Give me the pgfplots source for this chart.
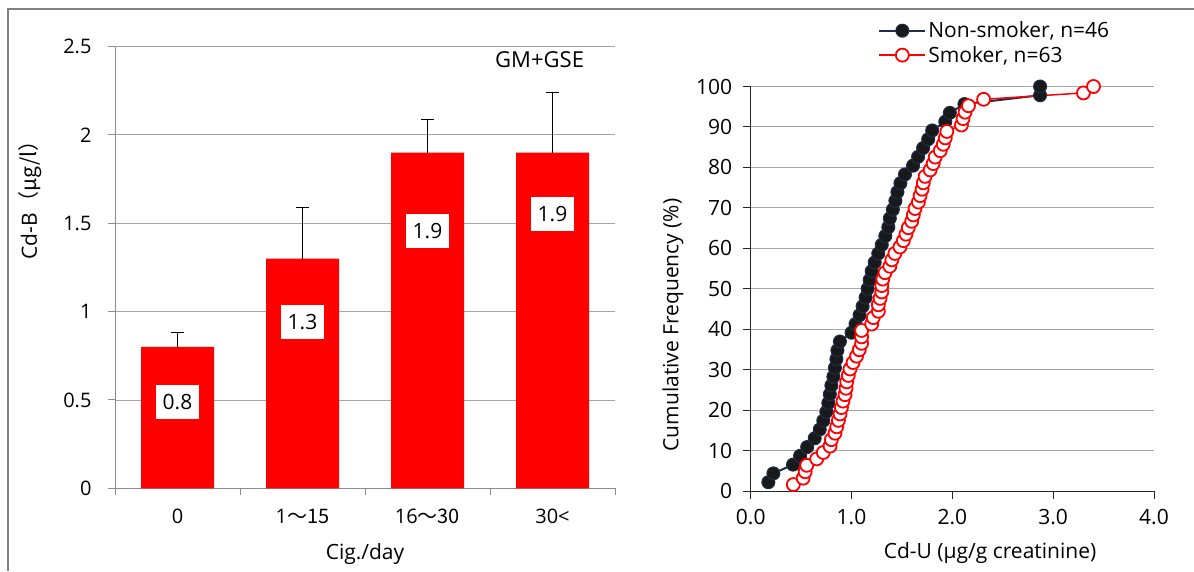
\documentclass[border=0pt]{standalone}
\usepackage{pgfplots}
\pgfplotsset{compat=1.18}
\usepackage{fontspec}
\setmainfont{Open Sans}
\newfontfamily\cjk{Noto Sans CJK JP}
\definecolor{navy}{HTML}{1F2D4D}
\definecolor{gridc}{HTML}{A6A6A6}
\definecolor{axisc}{HTML}{8C8C8C}
\newcommand{\fs}[1]{\fontsize{#1}{#1}\selectfont}
\begin{document}
\begin{tikzpicture}[x=1pt,y=1pt]
\path[use as bounding box] (0,0) rectangle (1194,571);
\draw[color=gray, line width=1.2pt] (8,0) -- (8,562) -- (1194,562);
% ---------------- left panel
\begin{axis}[
  at={(115pt,82.7pt)}, anchor=south west,
  scale only axis, width=500pt, height=441.7pt,
  xmin=-0.5, xmax=3.5, ymin=0, ymax=2.5,
  axis x line*=bottom, axis y line*=left,
  axis line style={axisc, line width=1pt, -},
  tick style={axisc, line width=1pt},
  tick align=outside, major tick length=7pt,
  xtick={-0.5,0.5,1.5,2.5,3.5}, xticklabels={,,,,,},
  extra x ticks={0,1,2,3},
  extra x tick labels={0, 1\cjk{～}15, 16\cjk{～}30, 30<},
  extra x tick style={major tick length=0pt, xticklabel style={yshift=-17pt}},
  ytick={0,0.5,1,1.5,2,2.5},
  ymajorgrids, grid style={gridc, line width=0.9pt},
  /pgf/number format/assume math mode=true,
  xticklabel style={font=\fs{20}},
  yticklabel style={font=\fs{20}, xshift=-13pt},
  clip=false,
]
\addplot[ybar, bar width=73pt, fill=red, draw=none,
  error bars/.cd, y dir=plus, y explicit,
  error bar style={black, line width=0.9pt},
  error mark options={rotate=90, mark size=6.5pt, black, line width=0.9pt}]
  table[x=x, y=y, y error=e] {
  x y e
  0 0.8 0.08
  1 1.3 0.29
  2 1.9 0.19
  3 1.9 0.34
};
\addplot[draw=none, mark=none, nodes near coords, point meta=explicit symbolic,
  every node near coord/.style={fill=white, anchor=center, inner sep=0pt,
    minimum width=43pt, minimum height=34pt, font=\fs{21}, text=black}]
  table[x=x, y=y, meta=l] {
  x y l
  0 0.486 0.8
  1 0.943 1.3
  2 1.455 1.9
  3 1.553 1.9
};
\end{axis}
\node[rotate=90, font=\fs{21}] at (30.6,376) {Cd-B\cjk{（}µg/l\cjk{）}};
\node[font=\fs{21}] at (365,17) {Cig./day};
\node[font=\fs{22}] at (539.6,511) {GM+GSE};
% ---------------- right panel
\begin{axis}[
  at={(750.7pt,80pt)}, anchor=south west,
  scale only axis, width=403.3pt, height=404.5pt,
  xmin=0, xmax=4, ymin=0, ymax=100,
  xtick={0,1,2,3,4}, ytick={0,10,...,100},
  axis x line*=bottom, axis y line*=left,
  axis line style={black!85, line width=1pt, -},
  tick style={black!85, line width=1pt},
  tick align=outside, major tick length=8pt,
  ymajorgrids, grid style={gridc, line width=0.9pt},
  /pgf/number format/assume math mode=true,
  xticklabel style={font=\fs{21}, yshift=-7pt, /pgf/number format/.cd, fixed, fixed zerofill, precision=1},
  yticklabel style={font=\fs{21}, xshift=-7pt},
  clip=false,
  legend style={at={(0.316,1.165)}, anchor=north west, draw=none, fill=none,
    font=\fs{21}, inner sep=0pt, row sep=3pt},
  legend cell align=left,
  legend image code/.code={\draw[mark repeat=2,mark phase=2,#1] plot coordinates {(0pt,0pt)(23pt,0pt)(46pt,0pt)};},
]
\addplot[navy, line width=2pt, mark=*, mark size=6.5pt,
  mark options={fill=black!90, draw=navy, line width=1pt}]
  table {
0.175 2.17
0.225 4.35
0.42 6.52
0.49 8.70
0.56 10.87
0.635 13.04
0.685 15.22
0.72 17.39
0.75 19.57
0.77 21.74
0.785 23.91
0.80 26.09
0.82 28.26
0.835 30.43
0.85 32.61
0.86 34.78
0.885 36.96
1.00 39.13
1.04 41.30
1.08 43.48
1.11 45.65
1.14 47.83
1.16 50.00
1.18 52.17
1.20 54.35
1.23 56.52
1.265 58.70
1.30 60.87
1.335 63.04
1.365 65.22
1.38 67.39
1.41 69.57
1.435 71.74
1.455 73.91
1.485 76.09
1.53 78.26
1.61 80.43
1.66 82.61
1.71 84.78
1.76 86.96
1.80 89.13
1.93 91.30
1.975 93.48
2.12 95.65
2.87 97.83
2.87 100
};
\addlegendentry{Non-smoker, n=46}
\addplot[red, line width=1.5pt, mark=*, mark size=6.5pt,
  mark options={fill=white, draw=red, line width=1.8pt}]
  table {
0.423 1.59
0.52 3.17
0.54 4.76
0.556 6.35
0.655 7.94
0.72 9.52
0.787 11.11
0.80 12.70
0.836 14.29
0.853 15.87
0.87 17.46
0.886 19.05
0.90 20.63
0.915 22.22
0.935 23.81
0.945 25.40
0.952 26.98
0.968 28.57
0.985 30.16
1.015 31.75
1.05 33.33
1.077 34.92
1.10 36.51
1.10 38.10
1.10 39.68
1.20 41.27
1.216 42.86
1.266 44.44
1.266 46.03
1.283 47.62
1.30 49.21
1.30 50.79
1.31 52.38
1.332 53.97
1.38 55.56
1.40 57.14
1.43 58.73
1.48 60.32
1.514 61.90
1.54 63.49
1.563 65.08
1.597 66.67
1.613 68.25
1.63 69.84
1.663 71.43
1.68 73.02
1.70 74.60
1.712 76.19
1.73 77.78
1.78 79.37
1.81 80.95
1.83 82.54
1.88 84.13
1.91 85.71
1.93 87.30
1.945 88.89
2.09 90.48
2.106 92.06
2.126 93.65
2.16 95.24
2.31 96.83
3.30 98.41
3.40 100
};
\addlegendentry{Smoker, n=63}
\end{axis}
\node[rotate=90, font=\fs{21}] at (673,246) {Cumulative Frequency (\%)};
\node[font=\fs{21}] at (990,18) {Cd-U (µg/g creatinine)};
\end{tikzpicture}
\end{document}
